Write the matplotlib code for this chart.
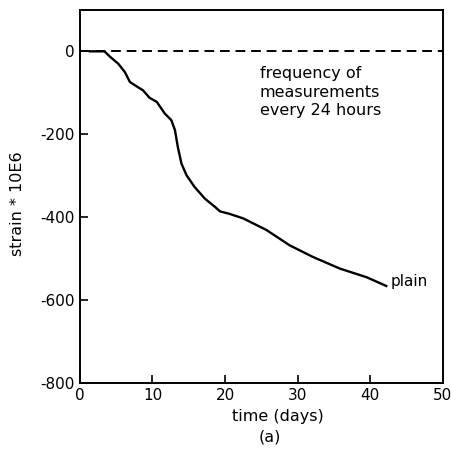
#!/usr/bin/env python3
import matplotlib
matplotlib.use('Agg')
import matplotlib.pyplot as plt

# shrinkage strain of the plain specimen, read daily
days = [1.4, 3.4, 4.1, 5.3, 6.2, 6.9, 7.6, 8.7, 9.6, 10.6, 11.7, 12.6, 13.1,
        13.5, 14.0, 14.7, 15.8, 17.2, 18.6, 19.3, 20.6, 22.5, 25.7, 28.9,
        32.1, 35.8, 39.5, 42.2]
strain = [0, 0, -12, -30, -50, -74, -82, -94, -112, -122, -150, -166, -190,
          -231, -271, -299, -327, -355, -375, -386, -392, -403, -431, -468,
          -496, -524, -545, -566]

xticks = [0, 10, 20, 30, 40, 50]
yticks = [0, -200, -400, -600, -800]

plt.rcParams['font.family'] = 'DejaVu Sans'
plt.rcParams['axes.unicode_minus'] = False
fig = plt.figure(figsize=(4.51, 4.5), dpi=100)
ax = fig.add_axes([0.177, 0.149, 0.805, 0.829])

ax.plot(days, strain, color='black', lw=1.7, solid_joinstyle='round')
ax.plot([0, 50], [0, 0], color='black', lw=1.4, ls=(0, (5, 3)))

ax.set_xlim(0, 50)
ax.set_ylim(-800, 100)
ax.set_xticks(xticks)
ax.set_yticks(yticks)
ax.tick_params(direction='in', length=6, width=1.2, labelsize=11, colors='black')
for s in ax.spines.values():
	s.set_linewidth(1.4)

ax.text(42.8, -555, 'plain', fontsize=11, va='center', ha='left')
ax.text(24.8, -99, 'frequency of\nmeasurements\nevery 24 hours',
        fontsize=11.5, va='center', ha='left', linespacing=1.3)

fig.text(278 / 451, 1 - 417 / 450, 'time (days)', fontsize=11.5, ha='center', va='center')
fig.text(270 / 451, 1 - 437 / 450, '(a)', fontsize=11.5, ha='center', va='center')
fig.text(18 / 451, 1 - 204 / 450, 'strain * 10E6', fontsize=11.5, rotation=90,
         ha='center', va='center')

fig.savefig('out.png', dpi=100)
